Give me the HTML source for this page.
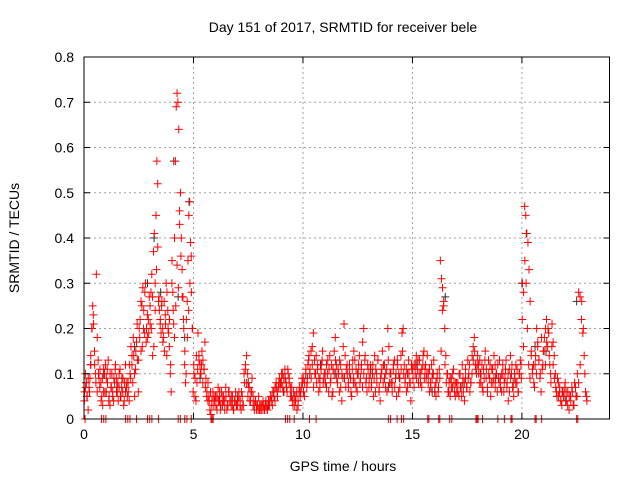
<!DOCTYPE html>
<html><head><meta charset="utf-8"><style>
body{margin:0;background:#fff;}
svg{display:block;font-family:"Liberation Sans",sans-serif;}
</style></head><body>
<svg id="chart" width="640" height="480">
<text x="343" y="32" text-anchor="middle" font-size="14">Day 151 of 2017, SRMTID for receiver bele</text>
<text x="343" y="471" text-anchor="middle" font-size="14">GPS time / hours</text>
<text transform="translate(19,238) rotate(-90)" text-anchor="middle" font-size="14">SRMTID / TECUs</text>
<g id="grid"></g><g id="dark"></g><g id="red"></g><g id="axes"></g>
</svg>
<script>
const xTicks=[0,5,10,15,20];
const yTicks=[0,0.1,0.2,0.3,0.4,0.5,0.6,0.7,0.8];
const yTickLabels=["0","0.1","0.2","0.3","0.4","0.5","0.6","0.7","0.8"];
// red series values, grouped per GPS hour (spread evenly across each hour)
const hourlyRed=[
[0.06,0.1,0.08,0.05,0.02,0.07,0.09,0.12,0.2,0.25,0.21,0.15,0.1,0.32,0.18,0.13,0.09,0.11,0.08,0.05,0.03,0.06,0.1,0.12],
[0.09,0.11,0.13,0.05,0.03,0.07,0.1,0.06,0.04,0.08,0.12,0.09,0.06,0.04,0.07,0.11,0.05,0.09,0.06,0.03,0.08,0.12,0.07,0.05],
[0.06,0.04,0.1,0.16,0.12,0.08,0.14,0.05,0.11,0.17,0.13,0.06,0.2,0.22,0.15,0.25,0.29,0.24,0.19,0.3,0.2,0.18,0.22,0.27],
[0.21,0.28,0.32,0.14,0.37,0.41,0.3,0.45,0.57,0.52,0.26,0.24,0.21,0.19,0.26,0.2,0.18,0.15,0.23,0.3,0.28,0.24,0.19,0.22,0.1,0.06],
[0.35,0.28,0.21,0.4,0.57,0.69,0.72,0.7,0.64,0.46,0.5,0.4,0.33,0.27,0.2,0.12,0.08,0.22,0.26,0.35,0.45,0.48,0.39,0.28,0.2,0.06],
[0.1,0.05,0.04,0.08,0.19,0.14,0.12,0.1,0.15,0.13,0.11,0.17,0.09,0.06,0.04,0.05,0.02,0.01,0.04,0.06,0.03,0.05],
[0.03,0.05,0.07,0.04,0.02,0.06,0.03,0.05,0.04,0.07,0.02,0.03,0.06,0.04,0.05,0.03,0.02,0.04,0.06,0.03],
[0.04,0.06,0.03,0.02,0.05,0.03,0.08,0.12,0.14,0.1,0.07,0.04,0.06,0.09,0.05,0.03,0.04,0.02,0.03,0.05],
[0.03,0.02,0.03,0.04,0.02,0.03,0.03,0.02,0.04,0.03,0.05,0.04,0.06,0.05,0.07,0.08,0.06,0.07,0.09,0.08],
[0.1,0.07,0.09,0.11,0.08,0.06,0.1,0.09,0.07,0.05,0.04,0.06,0.03,0.05,0.02,0.04,0.06,0.05,0.07,0.08],
[0.06,0.08,0.1,0.07,0.12,0.14,0.11,0.09,0.16,0.19,0.13,0.1,0.08,0.12,0.09,0.07,0.11,0.13,0.08,0.1],
[0.08,0.12,0.1,0.06,0.14,0.09,0.05,0.11,0.15,0.18,0.12,0.08,0.1,0.13,0.07,0.04,0.09,0.21,0.14,0.11],
[0.1,0.07,0.12,0.09,0.05,0.13,0.15,0.08,0.11,0.06,0.1,0.14,0.09,0.12,0.17,0.2,0.13,0.08,0.06,0.11],
[0.09,0.12,0.07,0.1,0.05,0.14,0.11,0.08,0.13,0.06,0.04,0.1,0.15,0.12,0.09,0.07,0.11,0.2,0.16,0.1],
[0.08,0.06,0.11,0.13,0.09,0.05,0.12,0.1,0.07,0.14,0.19,0.2,0.12,0.09,0.06,0.1,0.13,0.08,0.04,0.11],
[0.09,0.12,0.1,0.14,0.11,0.08,0.13,0.1,0.07,0.12,0.15,0.11,0.09,0.14,0.1,0.06,0.08,0.12,0.1,0.13],
[0.07,0.05,0.09,0.06,0.11,0.35,0.31,0.29,0.25,0.2,0.14,0.1,0.06,0.08,0.05,0.09,0.07,0.11,0.06,0.08],
[0.06,0.08,0.05,0.1,0.07,0.12,0.06,0.04,0.09,0.07,0.13,0.1,0.06,0.08,0.14,0.16,0.18,0.12,0.1,0.14],
[0.1,0.13,0.08,0.12,0.06,0.09,0.15,0.11,0.07,0.13,0.09,0.05,0.11,0.08,0.14,0.12,0.1,0.06,0.09,0.13],
[0.07,0.1,0.12,0.06,0.09,0.13,0.08,0.04,0.11,0.14,0.1,0.07,0.05,0.09,0.12,0.08,0.06,0.1,0.13,0.09],
[0.3,0.28,0.47,0.45,0.41,0.39,0.33,0.26,0.15,0.1,0.12,0.07,0.14,0.2,0.17,0.13,0.09,0.06,0.11,0.15],
[0.18,0.2,0.22,0.16,0.19,0.12,0.08,0.21,0.17,0.14,0.1,0.06,0.09,0.05,0.07,0.04,0.03,0.06,0.05,0.08],
[0.04,0.06,0.02,0.05,0.07,0.03,0.08,0.05,0.1,0.28,0.27,0.22,0.19,0.14,0.06,0.04]
];
// second red satellite group, per hour
const hourlyRed2=[
[0.04,0.07,0.05,0.09,0.06,0.14,0.2,0.23,0.12,0.08,0.06,0.1,0.07,0.04,0.09,0.11,0.06],
[0.06,0.08,0.04,0.1,0.07,0.05,0.09,0.11,0.06,0.08,0.1,0.05,0.07,0.09,0.04,0.06,0.08],
[0.08,0.12,0.09,0.14,0.18,0.1,0.15,0.21,0.13,0.18,0.26,0.16,0.2,0.28,0.17,0.23,0.19],
[0.25,0.2,0.27,0.16,0.24,0.33,0.38,0.27,0.22,0.25,0.17,0.26,0.21,0.14,0.2,0.16,0.12],
[0.3,0.24,0.18,0.25,0.34,0.29,0.43,0.36,0.27,0.22,0.15,0.1,0.18,0.24,0.3,0.36,0.2],
[0.12,0.09,0.14,0.11,0.13,0.1,0.12,0.08,0.11,0.07,0.05,0.08,0.04,0.06,0.03,0.05,0.04],
[0.05,0.02,0.04,0.06,0.03,0.05,0.04,0.02,0.05,0.03,0.06,0.04,0.03,0.05,0.02,0.04,0.03],
[0.03,0.05,0.04,0.06,0.03,0.1,0.11,0.08,0.05,0.07,0.04,0.06,0.03,0.02,0.04,0.03,0.02],
[0.02,0.03,0.02,0.03,0.02,0.04,0.02,0.03,0.04,0.05,0.03,0.06,0.04,0.07,0.05,0.08,0.07],
[0.08,0.1,0.06,0.09,0.07,0.11,0.08,0.05,0.07,0.03,0.05,0.04,0.06,0.03,0.07,0.06,0.09],
[0.09,0.05,0.11,0.08,0.13,0.1,0.15,0.12,0.07,0.1,0.14,0.11,0.06,0.09,0.12,0.15,0.09],
[0.1,0.07,0.13,0.11,0.08,0.12,0.06,0.1,0.13,0.09,0.11,0.06,0.12,0.1,0.16,0.09,0.07],
[0.12,0.08,0.1,0.06,0.11,0.09,0.13,0.07,0.1,0.12,0.08,0.11,0.07,0.1,0.14,0.09,0.12],
[0.07,0.1,0.08,0.12,0.09,0.06,0.1,0.13,0.07,0.09,0.11,0.08,0.12,0.1,0.06,0.13,0.08],
[0.1,0.08,0.12,0.07,0.1,0.13,0.06,0.09,0.11,0.15,0.1,0.08,0.11,0.07,0.1,0.08,0.12],
[0.11,0.07,0.12,0.09,0.13,0.1,0.08,0.11,0.14,0.09,0.12,0.1,0.08,0.11,0.07,0.09,0.1],
[0.06,0.08,0.1,0.07,0.09,0.15,0.24,0.26,0.12,0.08,0.1,0.06,0.09,0.07,0.1,0.08,0.05],
[0.08,0.06,0.1,0.07,0.05,0.09,0.08,0.11,0.07,0.09,0.12,0.08,0.1,0.13,0.15,0.11,0.12],
[0.12,0.08,0.1,0.07,0.11,0.13,0.09,0.06,0.1,0.12,0.08,0.11,0.09,0.07,0.1,0.12,0.08],
[0.09,0.06,0.1,0.08,0.11,0.07,0.1,0.06,0.09,0.12,0.07,0.1,0.08,0.11,0.06,0.1,0.12],
[0.22,0.16,0.35,0.3,0.2,0.12,0.09,0.14,0.11,0.08,0.12,0.1,0.16,0.13,0.1,0.18,0.12],
[0.15,0.12,0.17,0.2,0.14,0.1,0.16,0.12,0.09,0.07,0.05,0.08,0.06,0.04,0.06,0.05,0.07],
[0.06,0.03,0.05,0.04,0.06,0.03,0.07,0.05,0.08,0.12,0.26,0.2,0.1,0.05]
];
// dark (grey) series: hours and values
const darkHours=[0.1,0.3,0.9,1.5,2.3,2.9,3.2,3.5,3.9,4.1,4.3,4.6,4.8,5.3,6.2,7.0,7.5,8.4,9.1,9.6,10.2,10.8,11.5,12.3,13.1,13.9,14.4,15.2,15.9,16.5,17.3,18.1,18.8,19.6,20.0,20.2,20.6,21.1,21.6,22.0,22.5];
const darkValues=[0.08,0.12,0.1,0.07,0.16,0.3,0.4,0.28,0.22,0.57,0.27,0.18,0.48,0.09,0.04,0.05,0.08,0.03,0.06,0.05,0.09,0.12,0.1,0.08,0.11,0.07,0.09,0.12,0.06,0.27,0.08,0.1,0.09,0.08,0.3,0.41,0.16,0.15,0.05,0.04,0.26];
// hours with zero-valued samples along the axis
const zeroHours=[0.05,0.8,0.9,1.0,1.9,2.0,2.1,2.4,2.9,3.0,3.1,3.4,4.3,4.4,4.6,4.7,4.9,5.8,5.85,5.9,9.2,9.3,9.4,9.6,10.3,10.6,13.9,14.0,14.3,14.5,14.6,15.7,15.75,16.2,16.25,16.7,16.8,17.9,17.95,18.0,18.2,18.9,19.2,19.5,19.55,20.6,20.65,20.9,22.5,22.55];
const X0=84,X1=609.5,Y0=419,Y1=57;
const xs=h=>X0+h/24*(X1-X0);
const ys=v=>Y0-v/0.8*(Y0-Y1);
const NS="http://www.w3.org/2000/svg";
function mk(t,a,p){const e=document.createElementNS(NS,t);for(const k in a)e.setAttribute(k,a[k]);p.appendChild(e);return e;}
const grid=document.getElementById('grid'),axes=document.getElementById('axes');
xTicks.forEach((t,i)=>{const x=xs(t);
 if(i>0){const g=mk('line',{x1:x,x2:x,y1:Y1,y2:Y0,stroke:'#a0a0a0','stroke-dasharray':'2,3'},grid);}
 mk('line',{x1:x,x2:x,y1:Y0,y2:Y0-6,stroke:'#000'},axes);mk('line',{x1:x,x2:x,y1:Y1,y2:Y1+6,stroke:'#000'},axes);
 const l=mk('text',{x:x,y:Y0+20,'text-anchor':'middle','font-size':14},axes);l.textContent=t;
 });
yTicks.forEach((t,i)=>{const y=ys(t);
 if(i>0&&i<yTicks.length-1){const g=mk('line',{x1:X0,x2:X1,y1:y,y2:y,stroke:'#a0a0a0','stroke-dasharray':'2,3'},grid);}
 mk('line',{x1:X0,x2:X0+6,y1:y,y2:y,stroke:'#000'},axes);mk('line',{x1:X1,x2:X1-6,y1:y,y2:y,stroke:'#000'},axes);
 const l=mk('text',{x:X0-10,y:y+5,'text-anchor':'end','font-size':14},axes);l.textContent=yTickLabels[i];
 });
const fr=mk('rect',{x:X0,y:Y1,width:X1-X0,height:Y0-Y1,fill:'none',stroke:'#000'},axes);

function plus(x,y,c,g){const p=mk('path',{d:`M${x-4} ${y}h8M${x} ${y-4}v8`,stroke:c,'stroke-width':1,fill:'none'},g);return p;}
const dark=document.getElementById('dark'),red=document.getElementById('red');
darkHours.forEach((h,i)=>{const p=plus(xs(h),ys(darkValues[i]),'#333',dark);
 });
hourlyRed.forEach((vals,h)=>{vals.forEach((v,k)=>{const p=plus(xs(h+(k+0.5)/vals.length),ys(v),'#f00',red);
 });});
hourlyRed2.forEach((vals,h)=>{vals.forEach((v,k)=>{const p=plus(xs(h+(k+0.25)/vals.length),ys(v),'#f00',red);
 });});
zeroHours.forEach(h=>{const p=plus(xs(h),ys(0),'#f00',red);
 });
</script>
</body></html>
